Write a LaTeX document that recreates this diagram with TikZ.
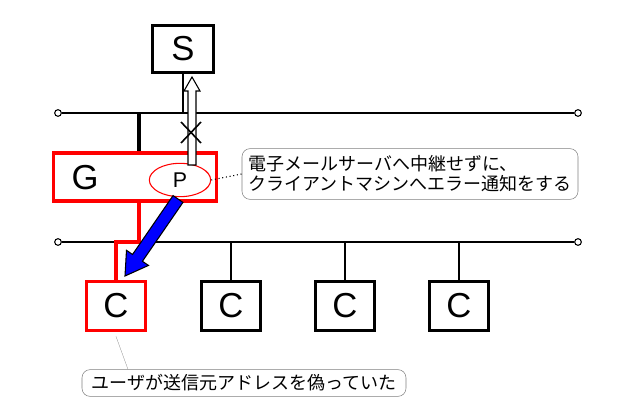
\documentclass[tikz,border=0pt]{standalone}
\usepackage{fontspec}
\setmainfont{Liberation Sans}
\newfontfamily\cjk{Noto Sans CJK JP}
\usetikzlibrary{positioning, calc, shapes.geometric, arrows.meta}
\begin{document}
\begin{tikzpicture}[x=0.75pt, y=-0.75pt,
				host/.style = {rectangle, draw, line width = 2.6pt, minimum width = 44pt, minimum height = 37pt, inner sep = 0pt, font = \fontsize{26}{26}\selectfont},
				bus/.style = {line width = 1.6pt},
				stub/.style = {line width = 1.4pt},
				endpt/.style = {circle, draw, thick, fill = white, inner sep = 0pt, minimum size = 5pt},
				note/.style = {rectangle, rounded corners = 6pt, draw = gray, thin, align = left, font = \cjk\fontsize{13.5}{15}\selectfont},
			]
			\useasboundingbox (0,0) rectangle (634,420);
			% upper and lower network
			\node[endpt](L1) at (58,113){};
			\node[endpt](R1) at (578,113){};
			\node[endpt](L2) at (58,242){};
			\node[endpt](R2) at (578,242){};
			\draw[bus](L1)--(R1);
			\draw[bus](L2)--(R2);

			\node[host, minimum width = 46pt, minimum height = 35pt](S) at (183,49){S};
			\node[host, draw = red, minimum width = 122pt, minimum height = 36pt](G) at (135,177){};
			\node[font = \fontsize{26}{26}\selectfont](Glab) at (85,178){G};
			\node[ellipse, draw = red, thick, minimum width = 46pt, minimum height = 25pt, font = \fontsize{16}{16}\selectfont](P) at (180,180){P};

			\node[host, draw = red](C1) at (116,306){C};
			\node[host](C2) at (231,306){C};
			\node[host](C3) at (345,306){C};
			\node[host](C4) at (459,306){C};

			\draw[line width = 2.4pt](139,113)--(G.north -| 139,0);
			\draw[line width = 2pt](S.south -| 183,0)--(183,113);
			\foreach \c in {C2, C3, C4}
				\draw[stub](\c.north)--(\c.north |- L2);
			\draw[red, line width = 2.6pt](G.south -| 139,0)--(139,242)--(116,242)--(C1.north);

			% error returned to the client
			\draw[thick, fill = white](188,165)--(188,91)--(184,91)--(192,77)--(200,91)--(196,91)--(196,165)--cycle;
			\draw[line width = 1.2pt](181,122)--(201,143) (181,143)--(201,122);
			\coordinate(T) at (125,276);
			\coordinate(A) at (178,199);
			\coordinate(B) at ($(T)!16.5pt!(A)$);
			\draw[fill = blue, thick](T)--($(B)!10pt!90:(A)$)--($(B)!4.5pt!90:(A)$)--($(A)!4.5pt!-90:(B)$)
				--($(A)!4.5pt!90:(B)$)--($(B)!4.5pt!-90:(A)$)--($(B)!10pt!-90:(A)$)--cycle;

			% notes
			\node[note, minimum width = 252pt, minimum height = 38pt](N1) at (410,174){電子メールサーバへ中継せずに、\\クライアントマシンへエラー通知をする};
			\draw[dotted, thick](P.east)--(N1.west);
			\node[note, minimum width = 243pt, minimum height = 20pt](N2) at (244,383){ユーザが送信元アドレスを偽っていた};
			\draw[gray, very thin](C1.south)++(0,4)--(N2.north -| 128,0);
		\end{tikzpicture}
\end{document}
